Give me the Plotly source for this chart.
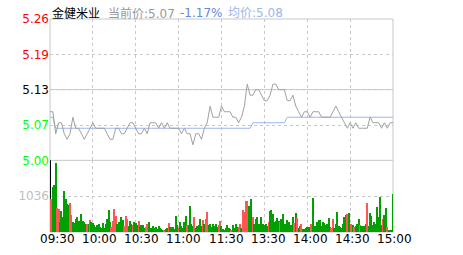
import plotly.graph_objects as go

# ---------------- data ----------------
stock_name = "金健米业"
prev_close = 5.13
last_price = 5.07
change_pct = -1.17
avg_last = 5.08

# price every 2 minutes, 09:30 .. 11:30 (=13:00) .. 15:00
price_2min = [
    5.09, 5.09, 5.05, 5.07, 5.07, 5.05, 5.04, 5.05, 5.08, 5.06,
    5.06, 5.05, 5.04, 5.05, 5.06, 5.07, 5.06, 5.06, 5.06, 5.06,
    5.05, 5.04, 5.04, 5.06, 5.06, 5.05, 5.05, 5.06, 5.07, 5.07,
    5.06, 5.05, 5.05, 5.06, 5.05, 5.07, 5.07, 5.07, 5.06, 5.07,
    5.06, 5.07, 5.06, 5.06, 5.06, 5.06, 5.05, 5.06, 5.05, 5.05,
    5.03, 5.05, 5.05, 5.04, 5.06, 5.07, 5.10, 5.08, 5.08, 5.08,
    5.10,
    5.09, 5.09, 5.09, 5.08, 5.08, 5.07, 5.08, 5.10, 5.14,
    5.12, 5.12, 5.13, 5.13, 5.12, 5.11, 5.11, 5.12, 5.14, 5.14,
    5.13, 5.13, 5.13, 5.11, 5.11, 5.12, 5.10, 5.09, 5.08, 5.09,
    5.09, 5.08, 5.09, 5.09, 5.09, 5.08, 5.08, 5.08, 5.08, 5.09,
    5.10, 5.09, 5.08, 5.07, 5.06, 5.07, 5.06, 5.07, 5.06, 5.06,
    5.06, 5.06, 5.08, 5.07, 5.07, 5.07, 5.06, 5.07, 5.06, 5.07,
    5.07,
]

avg_2min = [
    5.08, 5.08, 5.06, 5.06, 5.06, 5.06, 5.06, 5.06, 5.06, 5.06,
    5.06, 5.06, 5.06, 5.06, 5.06, 5.06, 5.06, 5.06, 5.06, 5.06,
    5.06, 5.06, 5.06, 5.06, 5.06, 5.06, 5.06, 5.06, 5.06, 5.06,
    5.06, 5.06, 5.06, 5.06, 5.06, 5.06, 5.06, 5.06, 5.06, 5.06,
    5.06, 5.06, 5.06, 5.06, 5.06, 5.06, 5.06, 5.06, 5.06, 5.06,
    5.06, 5.06, 5.06, 5.06, 5.06, 5.06, 5.06, 5.06, 5.06, 5.06,
    5.06, 5.06, 5.06, 5.06, 5.06, 5.06, 5.06, 5.06, 5.06, 5.06,
    5.06, 5.07, 5.07, 5.07, 5.07, 5.07, 5.07, 5.07, 5.07, 5.07,
    5.07, 5.07, 5.07, 5.08, 5.08, 5.08, 5.08, 5.08, 5.08, 5.08,
    5.08, 5.08, 5.08, 5.08, 5.08, 5.08, 5.08, 5.08, 5.08, 5.08,
    5.08, 5.08, 5.08, 5.08, 5.08, 5.08, 5.08, 5.08, 5.08, 5.08,
    5.08, 5.08, 5.08, 5.08, 5.08, 5.08, 5.08, 5.08, 5.08, 5.08,
    5.08,
]

# volume per minute (241 minutes)
volume = [
    2600, 940, 1280, 1340, 1990, 690, 665, 280, 600, 420,
    1180, 940, 800, 765, 830, 480, 280, 255, 370, 410,
    300, 260, 510, 310, 265, 220, 220, 220, 330, 290,
    255, 190, 145, 180, 235, 145, 120, 245, 100, 210,
    370, 630, 280, 145, 300, 665, 465, 235, 280, 255,
    410, 330, 175, 465, 370, 165, 310, 220, 190, 280,
    255, 200, 310, 150, 190, 190, 120, 145, 220, 280,
    120, 100, 165, 100, 145, 80, 165, 120, 80, 55,
    55, 80, 120, 245, 145, 135, 125, 80, 465, 190,
    120, 275, 150, 100, 280, 465, 190, 200, 735, 210,
    175, 420, 100, 165, 190, 355, 150, 325, 210, 375,
    575, 200, 235, 145, 235, 150, 235, 145, 190, 300,
    165, 80, 55, 120, 190, 100, 65, 55, 190, 120,
    235, 145, 145, 235, 120, 625, 575, 900, 875, 735,
    390, 935, 420, 235, 355, 435, 220, 190, 420, 210,
    190, 210, 150, 265, 600, 625, 510, 280, 310, 390,
    320, 280, 375, 520, 235, 210, 325, 280, 125, 200,
    420, 255, 545, 390, 120, 165, 210, 80, 90, 105,
    130, 145, 120, 220, 965, 150, 165, 280, 325, 325,
    165, 280, 255, 190, 235, 390, 145, 100, 355, 100,
    235, 555, 150, 145, 120, 235, 420, 480, 510, 535,
    220, 235, 190, 145, 175, 235, 375, 190, 165, 165,
    165, 220, 825, 165, 535, 465, 200, 280, 235, 720,
    420, 990, 200, 355, 490, 690, 145, 55, 60, 55,
    1075,
]

# tick direction per minute: 1 up, -1 down, 0 opening auction
direction = [
    0, 1, -1, -1, -1, 1, 1, -1, -1, -1,
    -1, -1, -1, -1, 1, 1, -1, -1, -1, -1,
    -1, -1, -1, -1, -1, -1, 1, -1, 1, -1,
    -1, -1, -1, -1, -1, -1, -1, -1, -1, -1,
    -1, -1, -1, 1, 1, 1, 1, -1, -1, -1,
    -1, -1, 1, 1, 1, -1, -1, -1, 1, -1,
    -1, -1, 1, -1, -1, -1, -1, 1, 1, -1,
    -1, -1, -1, -1, -1, -1, -1, -1, -1, -1,
    1, -1, -1, 1, -1, -1, -1, -1, -1, -1,
    1, -1, -1, -1, -1, -1, 1, -1, -1, -1,
    -1, 1, -1, -1, -1, -1, -1, 1, -1, 1,
    1, -1, -1, -1, -1, -1, -1, -1, 1, 1,
    -1, -1, -1, -1, -1, -1, -1, 1, -1, -1,
    -1, -1, 1, 1, -1, 1, 1, 1, 1, -1,
    -1, -1, 1, -1, -1, -1, -1, -1, -1, -1,
    -1, -1, -1, 1, -1, -1, -1, -1, -1, -1,
    -1, 1, -1, -1, -1, -1, -1, -1, -1, -1,
    -1, 1, -1, 1, -1, -1, 1, -1, -1, -1,
    -1, -1, -1, 1, -1, -1, -1, -1, -1, -1,
    -1, -1, -1, -1, -1, -1, -1, 1, 1, -1,
    -1, -1, -1, -1, -1, -1, -1, -1, 1, -1,
    -1, 1, -1, 1, -1, -1, -1, 1, -1, -1,
    -1, -1, 1, -1, -1, -1, -1, -1, -1, -1,
    -1, -1, -1, 1, -1, -1, 1, -1, -1, -1,
    -1,
]

time_labels = ["09:30", "10:00", "10:30", "11:00", "11:30", "13:30", "14:00", "14:30", "15:00"]
pct_levels = [-2.5, -1.25, 0.0, 1.25, 2.5]
vol_tick = 1036
vol_max = 2072

# ---------------- derived ----------------
n_min = len(volume)
minutes = list(range(n_min))
price_x = list(range(0, n_min, 2))
label_x = [i * 30 for i in range(len(time_labels))]

price_levels = [prev_close * (1 + p / 100) for p in pct_levels]
y_lo, y_hi = price_levels[0], price_levels[-1]

RED = "#ff0000"
GREEN = "#00ff00"
BLACK = "#000000"


def lvl_color(p):
    return RED if p > 0 else (GREEN if p < 0 else BLACK)


left_text = [f'<span style="color:{lvl_color(p)}">{v:.2f}</span>' for p, v in zip(pct_levels, price_levels)]
right_text = [f'<span style="color:{lvl_color(p)}">{"+" if p > 0 else ""}{p:.2f}%</span>' for p in pct_levels]

bar_colors = ["#000000" if d == 0 else ("#ff5555" if d > 0 else "#00a000") for d in direction]

FONT = "DejaVu Sans, Noto Sans CJK SC, sans-serif"
GRID = "#c8c8c8"

fig = go.Figure()
fig.add_trace(go.Bar(x=minutes, y=volume, marker=dict(color=bar_colors, line=dict(width=0)),
                     width=0.8, xaxis="x", yaxis="y3", showlegend=False))
fig.add_trace(go.Scatter(x=price_x, y=avg_2min, mode="lines", line=dict(color="#9cb5ef", width=1),
                         xaxis="x", yaxis="y", showlegend=False))
fig.add_trace(go.Scatter(x=price_x, y=price_2min, mode="lines", line=dict(color="#a0a0a0", width=1),
                         xaxis="x", yaxis="y", showlegend=False))

split = 74 / 220

fig.update_layout(
    width=463, height=255,
    margin=dict(l=50, r=70, t=12, b=23, pad=0),
    paper_bgcolor="white", plot_bgcolor="white",
    font=dict(family=FONT, size=12, color="#000000"),
    bargap=0,
    xaxis=dict(domain=[0, 1], range=[0, n_min - 1], tickvals=label_x[1:-1], showticklabels=False,
               showgrid=True, gridcolor=GRID, griddash="3px,3px", gridwidth=1, zeroline=False,
               showline=False, ticks="", anchor="y3"),
    yaxis=dict(domain=[split, 1], range=[y_lo, y_hi], tickvals=price_levels, ticktext=left_text,
               showgrid=True, gridcolor=GRID, griddash="3px,3px", zeroline=False, showline=False,
               ticks="", anchor="x"),
    yaxis2=dict(overlaying="y", side="right", range=[y_lo, y_hi], tickvals=price_levels, ticktext=right_text,
                showgrid=False, zeroline=False, showline=False, ticks="", anchor="x"),
    yaxis3=dict(domain=[0, split], range=[0, vol_max], tickvals=[vol_tick], ticktext=[str(vol_tick)],
                tickfont=dict(color="#c0c0c0"), showgrid=True, gridcolor=GRID, griddash="3px,3px",
                zeroline=False, showline=False, ticks="", anchor="x"),
    shapes=[
        dict(type="rect", xref="paper", yref="paper", x0=0, x1=1, y0=0, y1=1,
             line=dict(color=GRID, width=1), layer="between"),
        dict(type="line", xref="paper", yref="paper", x0=0, x1=1, y0=split, y1=split,
             line=dict(color=GRID, width=1), layer="between"),
        dict(type="line", xref="paper", yref="y", x0=0, x1=1, y0=prev_close, y1=prev_close,
             line=dict(color=GRID, width=1), layer="between"),
    ],
)

# time labels below the chart (spread slightly tighter than the grid, like the original)
for j, (lx, lt) in enumerate(zip(label_x, time_labels)):
    fig.add_annotation(x=lx, y=-7.5 / 220, xref="x", yref="paper", xanchor="center", yanchor="middle",
                       xshift=7.5 - 0.75 * j, text=lt, showarrow=False,
                       font=dict(size=12, color="#000000"))

title_y = 1 + 6 / 220
fig.add_annotation(x=0, y=title_y, xref="paper", yref="paper", xanchor="left", yanchor="middle",
                   text=stock_name, showarrow=False, font=dict(size=12, color="#000000"))
fig.add_annotation(x=56 / 343, y=title_y, xref="paper", yref="paper", xanchor="left", yanchor="middle",
                   text=f"当前价:{last_price:.2f}", showarrow=False, font=dict(size=12, color="#999999"))
fig.add_annotation(x=128 / 343, y=title_y, xref="paper", yref="paper", xanchor="left", yanchor="middle",
                   text=f"{change_pct:.2f}%", showarrow=False, font=dict(size=12, color="#6688d8"))
fig.add_annotation(x=176 / 343, y=title_y, xref="paper", yref="paper", xanchor="left", yanchor="middle",
                   text=f"均价:{avg_last:.2f}", showarrow=False, font=dict(size=12, color="#9cb5ef"))

fig.write_html("out.html")
